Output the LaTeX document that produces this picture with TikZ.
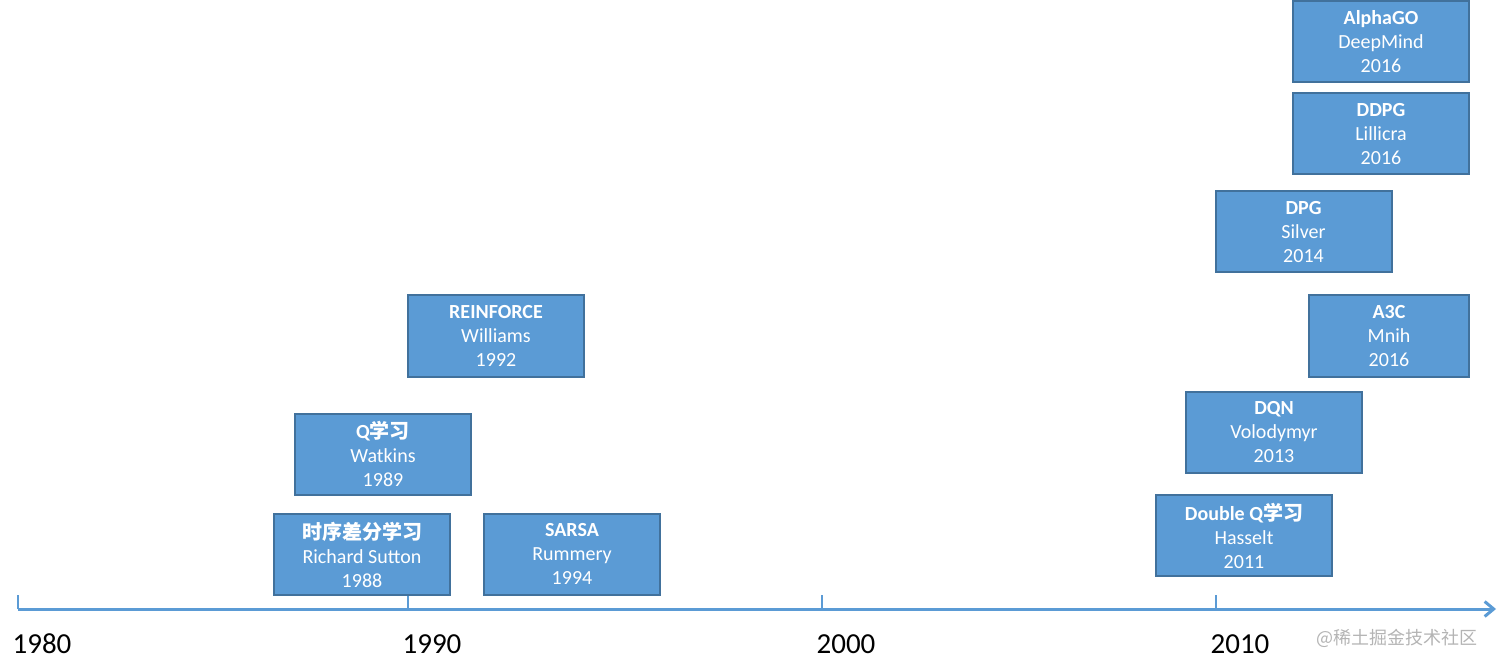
\documentclass[tikz,border=0pt]{standalone}
\usepackage{fontspec}
\setmainfont{Carlito}
\newfontfamily\cjk{Noto Sans CJK SC}
\usetikzlibrary{arrows.meta}
\definecolor{boxfill}{HTML}{5B9BD5}
\definecolor{boxline}{HTML}{41719C}
\definecolor{axiscol}{HTML}{5B9BD5}
\definecolor{wmark}{HTML}{B4B4B4}
\tikzset{
  evbox/.style={draw=boxline, line width=2pt, fill=boxfill, text=white,
    minimum width=176pt, minimum height=81pt, inner sep=0pt, align=center,
    font=\fontsize{20pt}{24pt}\selectfont},
  axisline/.style={draw=axiscol, line width=3pt},
  tickline/.style={draw=axiscol, line width=2.5pt},
  yearlbl/.style={anchor=base, inner sep=0pt, font=\fontsize{29pt}{34pt}\selectfont},
}
\begin{document}
\begin{tikzpicture}[x=1pt,y=-1pt]
\useasboundingbox (0,0) rectangle (1497,668);
% axis
\coordinate (axstart) at (18,609);
\coordinate (axend) at (1496,609);
\draw[axisline, -{Straight Barb[length=9pt,width=15pt,line width=3pt]}] (axstart) -- (axend);
\foreach \x/\y in {18/1980, 408/1990, 822/2000, 1216/2010}{
  \coordinate (tb\y) at (\x,609);
  \coordinate (tt\y) at (\x,595);
  \draw[tickline] (tb\y) -- (tt\y);
  \node[yearlbl] (lbl\y) at (\x+24,653) {\y};
}
% boxes
\node[evbox] (td) at (362,554.5) {\textbf{\cjk 时序差分学习}\\Richard Sutton\\1988};
\node[evbox] (ql) at (383,454) {\textbf{Q{\cjk 学习}}\\Watkins\\1989};
\node[evbox] (rf) at (496,336) {\textbf{REINFORCE}\\Williams\\1992};
\node[evbox] (sarsa) at (572,554) {\textbf{SARSA}\\Rummery\\1994};
\node[evbox] (dq) at (1244,535.5) {\textbf{Double Q{\cjk 学习}}\\Hasselt\\2011};
\node[evbox] (dqn) at (1274,432.5) {\textbf{DQN}\\Volodymyr\\2013};
\node[evbox, minimum width=160pt] (a3c) at (1389,336) {\textbf{A3C}\\Mnih\\2016};
\node[evbox] (dpg) at (1303.5,232) {\textbf{DPG}\\Silver\\2014};
\node[evbox] (ddpg) at (1381,134) {\textbf{DDPG}\\Lillicra\\2016};
\node[evbox] (ago) at (1381,41.5) {\textbf{AlphaGO}\\DeepMind\\2016};
% watermark
\node[anchor=center, inner sep=0pt, text=wmark, font=\cjk\fontsize{18pt}{20pt}\selectfont] (wm) at (1397,638) {@稀土掘金技术社区};
\end{tikzpicture}
\end{document}
